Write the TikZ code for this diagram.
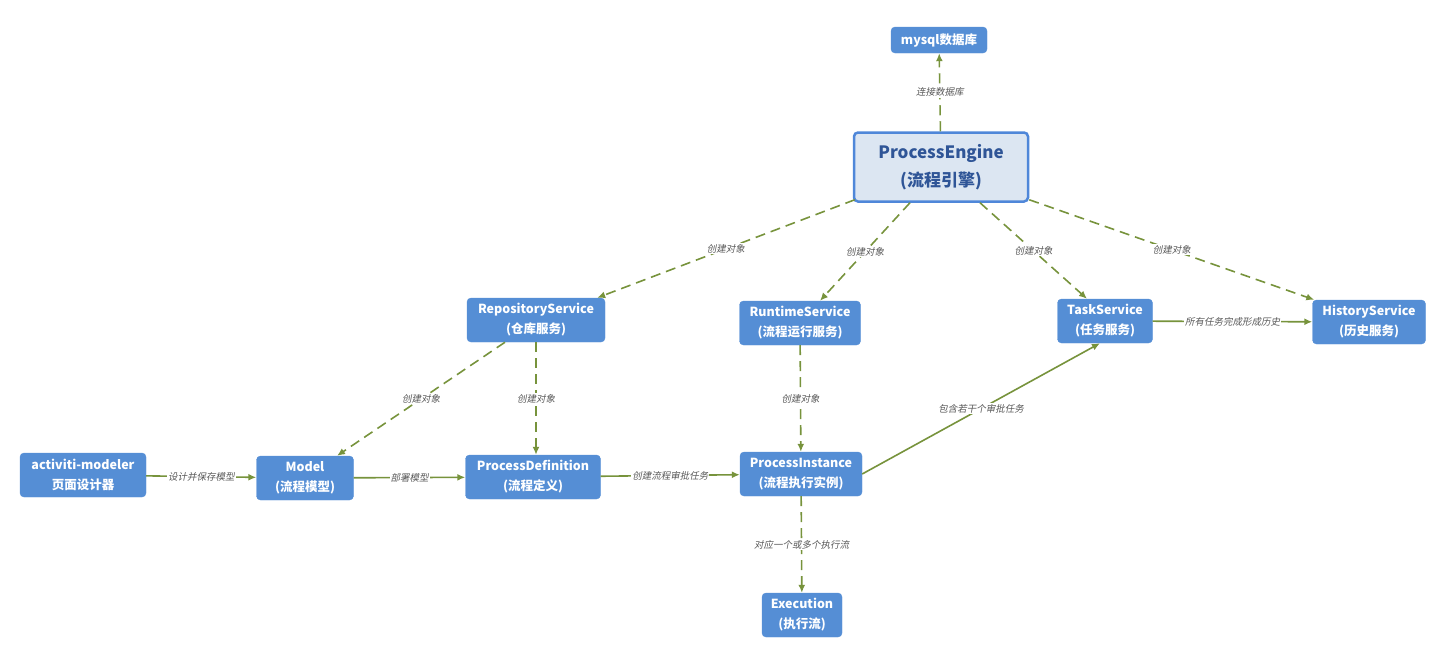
\documentclass[tikz,border=0pt]{standalone}
\usepackage{fontspec}
\setmainfont{Noto Sans CJK SC}
\newfontfamily\lblfont[FakeSlant=0.2]{Noto Sans CJK SC}
\usetikzlibrary{arrows.meta,positioning}
\definecolor{bBlue}{HTML}{558ED5}
\definecolor{eFill}{HTML}{DCE6F2}
\definecolor{eLine}{HTML}{4F87D9}
\definecolor{eText}{HTML}{2F5597}
\definecolor{aGreen}{HTML}{77933C}
\definecolor{lGrey}{HTML}{595959}
\tikzset{
  nd/.style   = {draw=bBlue, fill=bBlue, rounded corners=4pt, align=center, text=white,
                 font=\fontsize{12.5}{20}\selectfont\bfseries, inner sep=0pt, minimum height=44pt},
  ndh/.style  = {nd, draw=eLine, fill=eFill, text=eText, line width=2.5pt,
                 font=\fontsize{17}{28}\selectfont\bfseries, minimum width=174pt, minimum height=69pt},
  ar/.style   = {-{Latex[length=8pt,width=7pt]}, draw=aGreen, line width=1.6pt},
  ard/.style  = {ar, dash pattern=on 10pt off 6pt},
  lbl/.style  = {font=\lblfont\fontsize{9.5}{10}\selectfont, text=lGrey, fill=white, inner sep=1pt},
}
\begin{document}
\begin{tikzpicture}[x=1pt, y=-1pt]
  \useasboundingbox (0,0) rectangle (1446,665);
  \node[nd, minimum width=96pt, minimum height=26pt] (db) at (939,40) {mysql数据库};
  \node[ndh] (pe) at (941,167) {ProcessEngine\\(流程引擎)};
  \node[nd, minimum width=138pt] (repo) at (536,320) {RepositoryService\\(仓库服务)};
  \node[nd, minimum width=121pt] (rt)   at (800,323) {RuntimeService\\(流程运行服务)};
  \node[nd, minimum width=95pt]  (task) at (1105,321) {TaskService\\(任务服务)};
  \node[nd, minimum width=113pt] (hist) at (1369,322) {HistoryService\\(历史服务)};
  \node[nd, minimum width=126pt] (mod)  at (83,475)  {activiti-modeler\\页面设计器};
  \node[nd, minimum width=97pt]  (mdl)  at (305,478) {Model\\(流程模型)};
  \node[nd, minimum width=135pt] (pd)   at (533,477) {ProcessDefinition\\(流程定义)};
  \node[nd, minimum width=122pt] (pi)   at (801,474) {ProcessInstance\\(流程执行实例)};
  \node[nd, minimum width=80pt]  (ex)   at (802,615) {Execution\\(执行流)};
  % engine
  \draw[ard] (pe) -- node[lbl] {连接数据库} (db);
  \draw[ard] ([xshift=2pt,yshift=3pt]pe.south west) -- node[lbl] {创建对象} ([xshift=-8pt]repo.north east);
  \draw[ard] ([xshift=-31pt]pe.south) -- node[lbl] {创建对象} ([xshift=20pt]rt.north);
  \draw[ard] ([xshift=39pt]pe.south) -- node[lbl] {创建对象} ([xshift=-18pt]task.north);
  \draw[ard] ([yshift=3pt]pe.south east) -- node[lbl] {创建对象} ([xshift=2pt]hist.north west);
  % services
  \draw[ard] ([xshift=-31pt]repo.south) -- node[lbl] {创建对象} ([xshift=32pt]mdl.north);
  \draw[ard] (repo) -- node[lbl] {创建对象} (pd.north -| repo);
  \draw[ard] (rt) -- node[lbl] {创建对象} (pi);
  % flow
  \draw[ar] (mod) -- node[lbl] {设计并保存模型} (mdl);
  \draw[ar] (mdl) -- node[lbl] {部署模型} (pd);
  \draw[ar] (pd) -- node[lbl] {创建流程审批任务} (pi);
  \draw[ar] (pi.east) -- node[lbl] {包含若干个审批任务} ([xshift=-5pt]task.south);
  \draw[ar] (task) -- node[lbl] {所有任务完成形成历史} (hist);
  \draw[ard] (pi) -- node[lbl] {对应一个或多个执行流} (ex);
\end{tikzpicture}
\end{document}
